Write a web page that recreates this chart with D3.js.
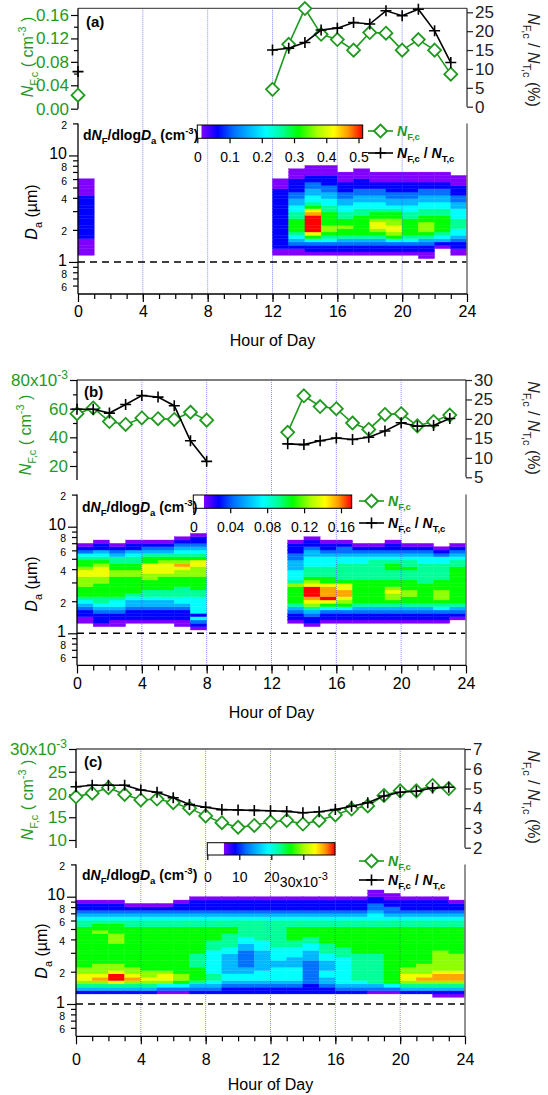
<!DOCTYPE html>
<html><head><meta charset="utf-8">
<script src="https://cdn.jsdelivr.net/npm/d3@7"></script>
<style>
html,body{margin:0;padding:0;background:#fff;}
svg{display:block;font-family:"Liberation Sans",Arial,Helvetica,sans-serif;}
</style></head><body>
<svg id="chart" width="548" height="1095"></svg>
<script>
// ================= DATA =================
const hoursOfDay = [0,1,2,3,4,5,6,7,8,9,10,11,12,13,14,15,16,17,18,19,20,21,22,23];
const xTickValues = [0,4,8,12,16,20,24];
const gridHours = [4,8,12,16,20];

// Panel (a)
const nfcA   = [0.023,null,null,null,null,null,null,null,null,null,null,null,0.033,0.110,0.171,0.127,0.118,0.100,0.130,0.129,0.100,0.118,0.100,0.059];
const ratioA = [9.3,null,null,null,null,null,null,null,null,null,null,null,15.0,15.5,17.0,20.3,20.8,22.3,21.9,25.4,24.1,25.8,20.1,11.7];
const leftTicksA = [0,0.04,0.08,0.12,0.16];
const leftMinorA = [0.02,0.06,0.10,0.14];
const rightTicksA = [0,5,10,15,20,25];
const cbTicksA = [0,0.1,0.2,0.3,0.4,0.5];
const cbLabelsA = ["0","0.1","0.2","0.3","0.4","0.5"];
// size distribution: [first size bin (1/32 decade index), colour levels 0..a per bin]
const sizeDistA = [
 [2,"00000111111111111100000"],
 null,null,null,null,null,null,null,null,null,null,null,
 [2,"00111111111111111111000"],
 [2,"00123456666554433221111000"],
 [2,"0112468aaaaa986544332211000"],
 [2,"011245677666655443322111000"],
 [2,"0112356676655443322111000"],
 [2,"01123566666655443322111000"],
 [2,"0112356788766544332211000"],
 [2,"0112467887766543322111000"],
 [2,"0112456666655443322111000"],
 [1,"00112356777665544332211000"],
 [4,"01345666665544332211000"],
 [2,"001123445554443322111000"]
];

// Panel (b)
const nfcB   = [0.0565,0.0605,0.051,0.049,0.0535,0.053,0.0525,0.0575,0.052,null,null,null,null,0.0435,0.069,0.0615,0.060,0.050,0.0455,0.056,0.0565,0.048,0.051,0.0555];
const ratioB = [22.5,22.5,21.5,23.7,26.0,25.6,23.4,14.4,9.1,null,null,null,null,13.6,13.4,14.4,15.1,14.7,15.3,16.9,19.0,18.1,18.3,20.1];
const leftTicksB = [0.02,0.04,0.06,0.08];
const leftMinorB = [0.03,0.05,0.07];
const rightTicksB = [5,10,15,20,25,30];
const cbTicksB = [0,0.04,0.08,0.12,0.16];
const cbLabelsB = ["0","0.04","0.08","0.12","0.16"];
const sizeDistB = [
 [3,"001123456667778876654210"],
 [2,"01112345566667788876543110"],
 [2,"0011234456666667766553210"],
 [3,"0111233456666677665543110"],
 [3,"0111233455666778886653210"],
 [3,"0111233455666678887653210"],
 [2,"001112344555666778976543210"],
 [1,"01241444445566667778865432110"],
 null,null,null,null,null,
 [3,"0112356666675444333221110"],
 [2,"011235789aaa876555444332110"],
 [3,"0112468a99986655544432110"],
 [3,"0112467899886555554432210"],
 [3,"011235666666655555443210"],
 [3,"011235666666655555543210"],
 [3,"0112356778766555665432110"],
 [3,"011235667766655565543210"],
 [3,"011235666666555555443210"],
 [3,"01124567776665555544210"],
 [4,"01235666666666665543210"]
];

// Panel (c)
const nfcC   = [0.0195,0.0203,0.0215,0.0200,0.0188,0.0190,0.0182,0.0170,0.0153,0.0138,0.0128,0.0132,0.0140,0.0143,0.0135,0.0143,0.0155,0.0168,0.0175,0.0198,0.0208,0.0208,0.0220,0.0213];
const ratioC = [5.09,5.16,5.16,5.16,4.92,4.81,4.53,4.19,4.05,3.93,3.91,3.89,3.87,3.84,3.77,3.82,3.93,4.10,4.28,4.62,4.81,4.86,5.02,5.06];
const leftTicksC = [0.010,0.015,0.020,0.025,0.030];
const leftMinorC = [];
const rightTicksC = [2,3,4,5,6,7];
const cbTicksC = [0,0.01,0.02,0.03];
const cbLabelsC = ["0","10","20","30x10"];
const sizeDistC = [
 [3,"1357887766666666666655432110"],
 [3,"1357987776666666667665432110"],
 [3,"1358aa8776666667776665432110"],
 [3,"135798776666666666665543210"],
 [3,"135787766666666666665543210"],
 [3,"024788766666666666665543210"],
 [3,"0246776666666666666655432110"],
 [3,"12356666555566666666554321110"],
 [3,"12345544444445556666554321110"],
 [3,"11234433333344555566554321110"],
 [3,"11234433222223344555554321110"],
 [3,"11234443333334445555554321110"],
 [3,"11234444334444555555554321110"],
 [3,"11234444333444556666554321110"],
 [3,"11122222223334455666554321110"],
 [3,"11233443334455566666554321110"],
 [3,"12344444444555666666554321110"],
 [3,"12345555555566666666554321110"],
 [3,"0235555555556666666655443221100"],
 [3,"024666666666666666665543221100"],
 [3,"13578877666666666666554321110"],
 [3,"13579877766666666666554321110"],
 [2,"013579987777776666666554321110"],
 [2,"01357998777776666666655432110"]
];

const heatMinorTicks = [0.6,0.7,0.8,0.9,2,3,4,5,6,7,8,9,20];
const heatMinorLabels = {0.6:"6",0.8:"8",2:"2",4:"4",6:"6",8:"8",20:"2"};

// colour table (Igor-like reversed rainbow)
const rainbowPos = [0,0.10,0.20,0.30,0.40,0.50,0.60,0.72,0.82,0.91,1];
const rainbowCol = ["#8000ff","#0000ff","#0070ff","#00b8ff","#00ffff","#00ff99","#00ff00","#aaff00","#ffff00","#ff9900","#ff0000"];

// ================= DRAW =================
const svg = d3.select("#chart");
const defs = svg.append("defs");
const GREEN = "#1f9a1f";
const FONT = '"Liberation Sans",Arial,sans-serif';

function rich(parent, x, y, parts, o) {
  const fs = o.fs;
  const t = parent.append("text").attr("x", x).attr("y", y)
    .attr("font-size", fs).attr("fill", o.fill || "#000")
    .attr("text-anchor", o.anchor || "start");
  if (o.bold) t.attr("font-weight", "bold");
  if (o.transform) t.attr("transform", o.transform);
  let cur = 0;
  parts.forEach(p => {
    const sp = t.append("tspan").text(p.t);
    let target = 0;
    if (p.sub) target = fs * 0.32;
    if (p.sup) target = -fs * 0.45;
    if (target - cur !== 0) sp.attr("dy", target - cur);
    cur = target;
    if (p.sub || p.sup) sp.attr("font-size", fs * 0.68);
    if (p.i) sp.attr("font-style", "italic");
  });
  return t;
}

function styleAxis(ax, fs, col) {
  ax.attr("font-family", FONT).attr("font-size", fs).attr("color", col || "#000");
  ax.select(".domain").remove();
  ax.selectAll(".tick line").attr("stroke-width", 1.2);
}

const panels = [
 {id:"a", x0:78, x1:467, frameTop:8.3,
  leftDom:[0,0.16], leftRng:[108.7,15], leftBottom:108.7, leftMajor:leftTicksA, leftMinor:leftMinorA, leftFmt:d=>d.toFixed(2), sciTop:null,
  rightDom:[0,25], rightRng:[106.7,12.3], rightBottom:106.7, rightTicks:rightTicksA,
  nfc:nfcA, ratio:ratioA, dist:sizeDistA, hTop:123.4, hBottom:294, xPad:4, hourY:346,
  cbMin:0.013, cbMax:0.513, cbX0:197.3, cbX1:362.7, cbY0:125, cbY1:138.3, cbTicks:cbTicksA, cbLabels:cbLabelsA, cbPad:9, cbSci:false,
  cbLabelX:83, cbLabelY:140, legX:368, legY1:131, legY2:153,
  tag:[86,27], leftTitle:[33,57], rightTitle:[528,60], daTitle:[37,212]},
 {id:"b", x0:77, x1:466, frameTop:380,
  leftDom:[0.02,0.08], leftRng:[466,380], leftBottom:480, leftMajor:leftTicksB, leftMinor:leftMinorB, leftFmt:d=>String(Math.round(d*1000)), sciTop:0.08,
  rightDom:[5,30], rightRng:[477.3,380], rightBottom:477.3, rightTicks:rightTicksB,
  nfc:nfcB, ratio:ratioB, dist:sizeDistB, hTop:494.6, hBottom:665.4, xPad:4, hourY:718,
  cbMin:0.0116, cbMax:0.1716, cbX0:193.3, cbX1:351.7, cbY0:495, cbY1:508.3, cbTicks:cbTicksB, cbLabels:cbLabelsB, cbPad:9, cbSci:false,
  cbLabelX:82, cbLabelY:512, legX:359, legY1:501, legY2:523,
  tag:[84,397], leftTitle:[31,435], rightTitle:[528,428], daTitle:[37,584]},
 {id:"c", x0:76, x1:465, frameTop:749,
  leftDom:[0.010,0.030], leftRng:[840,749], leftBottom:848, leftMajor:leftTicksC, leftMinor:leftMinorC, leftFmt:d=>String(Math.round(d*1000)), sciTop:0.030,
  rightDom:[2,7], rightRng:[847.7,749], rightBottom:847.7, rightTicks:rightTicksC,
  nfc:nfcC, ratio:ratioC, dist:sizeDistC, hTop:864.4, hBottom:1036.3, xPad:9, hourY:1090,
  cbMin:0.0052, cbMax:0.0399, cbX0:207.3, cbX1:335, cbY0:842.7, cbY1:855, cbTicks:cbTicksC, cbLabels:cbLabelsC, cbPad:12, cbSci:true,
  cbLabelX:82, cbLabelY:880, legX:359, legY1:861, legY2:880,
  tag:[84,767], leftTitle:[33,800], rightTitle:[528,797], daTitle:[47,951]}
];

panels.forEach(P => {
  const g = svg.append("g");
  const x = d3.scaleLinear().domain([0,24]).range([P.x0, P.x1]);
  const yL = d3.scaleLinear().domain(P.leftDom).range(P.leftRng);
  const yR = d3.scaleLinear().domain(P.rightDom).range(P.rightRng);
  const yH = d3.scaleLog().domain([0.5,20]).range([P.hBottom, P.hTop]);
  const color = d3.scaleLinear()
    .domain(rainbowPos.map(t => P.cbMin + t*(P.cbMax - P.cbMin)))
    .range(rainbowCol).clamp(true);

  // ---- heatmap cells ----
  const cells = [];
  P.dist.forEach((col, h) => {
    if (!col) return;
    const s = col[0];
    [...col[1]].forEach((ch, i) => {
      const j = s + i;
      const lvl = parseInt(ch, 16);
      cells.push({h, lo: Math.pow(10, j/32), hi: Math.pow(10, (j+1)/32),
                  v: P.cbMin + lvl/10*(P.cbMax - P.cbMin)});
    });
  });
  g.append("g").selectAll("rect").data(cells).join("rect")
    .attr("x", d => x(d.h)).attr("width", d => x(d.h+1) - x(d.h))
    .attr("y", d => yH(d.hi)).attr("height", d => yH(d.lo) - yH(d.hi))
    .attr("fill", d => color(d.v)).attr("stroke", d => color(d.v)).attr("stroke-width", 0.35);

  // ---- vertical grid lines ----
  g.append("g").selectAll("line").data(gridHours).join("line")
    .attr("x1", d => x(d)).attr("x2", d => x(d))
    .attr("y1", P.frameTop).attr("y2", P.hBottom)
    .attr("stroke", "#4040ff").attr("stroke-width", 0.8)
    .attr("stroke-dasharray", "1,1").attr("opacity", 0.75);

  // ---- dashed 1 um line ----
  g.append("line").attr("x1", P.x0).attr("x2", P.x1).attr("y1", yH(1)).attr("y2", yH(1))
    .attr("stroke", "#000").attr("stroke-width", 1.5).attr("stroke-dasharray", "7,5");

  // ---- heatmap axes ----
  g.append("line").attr("x1", P.x0).attr("x2", P.x0).attr("y1", P.hTop).attr("y2", P.hBottom)
    .attr("stroke", "#000").attr("stroke-width", 1.3);
  g.append("line").attr("x1", P.x1).attr("x2", P.x1).attr("y1", P.hTop).attr("y2", P.hBottom)
    .attr("stroke", "#777").attr("stroke-width", 1.6);
  g.append("line").attr("x1", P.x0).attr("x2", P.x1).attr("y1", P.hBottom).attr("y2", P.hBottom)
    .attr("stroke", "#000").attr("stroke-width", 1.3);

  const hMaj = g.append("g").attr("transform", `translate(${P.x0},0)`)
    .call(d3.axisLeft(yH).tickValues([1,10]).tickSize(9).tickPadding(2).tickFormat(d3.format("d")));
  styleAxis(hMaj, 16);
  hMaj.selectAll("text").attr("dy", "0.2em");
  const hMin = g.append("g").attr("transform", `translate(${P.x0},0)`)
    .call(d3.axisLeft(yH).tickValues(heatMinorTicks).tickSize(5).tickPadding(6)
      .tickFormat(d => heatMinorLabels[d] || ""));
  styleAxis(hMin, 10.5);
  hMin.selectAll("text").attr("dy", "0.47em");

  const xMaj = g.append("g").attr("transform", `translate(0,${P.hBottom})`)
    .call(d3.axisBottom(x).tickValues(xTickValues).tickSize(8).tickPadding(P.xPad).tickFormat(d3.format("d")));
  styleAxis(xMaj, 16);
  const xMin = g.append("g").attr("transform", `translate(0,${P.hBottom})`)
    .call(d3.axisBottom(x).tickValues(hoursOfDay.slice(1)).tickSize(5).tickFormat(""));
  styleAxis(xMin, 10);

  g.append("text").attr("x", (P.x0 + P.x1)/2).attr("y", P.hourY).attr("text-anchor", "middle")
    .attr("font-size", 16).text("Hour of Day");

  rich(g, 0, 0, [{t:"D", i:1},{t:"a", sub:1},{t:" (µm)"}],
    {fs:16, anchor:"middle", transform:`translate(${P.daTitle[0]},${P.daTitle[1]}) rotate(-90)`});

  // ---- top plot frame & axes ----
  g.append("line").attr("x1", P.x0).attr("x2", P.x1).attr("y1", P.frameTop).attr("y2", P.frameTop)
    .attr("stroke", "#555").attr("stroke-width", 1.3);
  g.append("line").attr("x1", P.x0).attr("x2", P.x0).attr("y1", P.frameTop).attr("y2", P.leftBottom)
    .attr("stroke", "#000").attr("stroke-width", 1.3);
  g.append("line").attr("x1", P.x1).attr("x2", P.x1).attr("y1", P.frameTop).attr("y2", P.rightBottom)
    .attr("stroke", "#333").attr("stroke-width", 1.3);

  const lAx = g.append("g").attr("transform", `translate(${P.x0},0)`)
    .call(d3.axisLeft(yL).tickValues(P.leftMajor).tickSize(7).tickPadding(2).tickFormat(P.leftFmt));
  styleAxis(lAx, 17);
  lAx.selectAll("text").attr("fill", GREEN);
  if (P.sciTop !== null) {
    lAx.selectAll(".tick").filter(d => Math.abs(d - P.sciTop) < 1e-9).select("text")
      .text(null).call(t => {
        t.append("tspan").text(P.leftFmt(P.sciTop) + "x10");
        t.append("tspan").attr("dy", -7).attr("font-size", 12).text("-3");
      });
  }
  if (P.leftMinor.length) {
    const lMin = g.append("g").attr("transform", `translate(${P.x0},0)`)
      .call(d3.axisLeft(yL).tickValues(P.leftMinor).tickSize(4).tickFormat(""));
    styleAxis(lMin, 10);
  }
  const rAx = g.append("g").attr("transform", `translate(${P.x1},0)`)
    .call(d3.axisRight(yR).tickValues(P.rightTicks).tickSize(6).tickPadding(2).tickFormat(d3.format("d")));
  styleAxis(rAx, 17, "#222");

  rich(g, 0, 0, [{t:"N", i:1},{t:"F,c", sub:1},{t:" ( cm"},{t:"-3", sup:1},{t:" )"}],
    {fs:16, anchor:"middle", fill:GREEN, transform:`translate(${P.leftTitle[0]},${P.leftTitle[1]}) rotate(-90)`});
  rich(g, 0, 0, [{t:"N", i:1},{t:"F,c", sub:1},{t:" / "},{t:"N", i:1},{t:"T,c", sub:1},{t:" (%)"}],
    {fs:16, anchor:"middle", fill:"#222", transform:`translate(${P.rightTitle[0]},${P.rightTitle[1]}) rotate(90)`});

  g.append("text").attr("x", P.tag[0]).attr("y", P.tag[1]).attr("font-size", 15)
    .attr("font-weight", "bold").text(`(${P.id})`);

  // ---- series ----
  const diamond = "M0,-6.5L6.5,0L0,6.5L-6.5,0Z";
  const cross = "M-5.5,0H5.5M0,-5.5V5.5";
  const gPts = hoursOfDay.map((h, i) => ({h, v: P.nfc[i]}));
  const kPts = hoursOfDay.map((h, i) => ({h, v: P.ratio[i]}));
  const lineG = d3.line().defined(d => d.v !== null).x(d => x(d.h)).y(d => yL(d.v));
  const lineK = d3.line().defined(d => d.v !== null).x(d => x(d.h)).y(d => yR(d.v));
  g.append("path").attr("d", lineG(gPts)).attr("fill", "none").attr("stroke", GREEN).attr("stroke-width", 1.6);
  g.append("g").selectAll("path").data(gPts.filter(d => d.v !== null)).join("path")
    .attr("d", diamond).attr("transform", d => `translate(${x(d.h)},${yL(d.v)})`)
    .attr("fill", "#fff").attr("stroke", GREEN).attr("stroke-width", 1.8);
  g.append("path").attr("d", lineK(kPts)).attr("fill", "none").attr("stroke", "#000").attr("stroke-width", 1.6);
  g.append("g").selectAll("path").data(kPts.filter(d => d.v !== null)).join("path")
    .attr("d", cross).attr("transform", d => `translate(${x(d.h)},${yR(d.v)})`)
    .attr("fill", "none").attr("stroke", "#000").attr("stroke-width", 1.6);

  // ---- colour bar ----
  const gradId = "grad-" + P.id;
  const grad = defs.append("linearGradient").attr("id", gradId).attr("x1", "0%").attr("x2", "100%");
  rainbowPos.forEach((t, i) => grad.append("stop").attr("offset", (t*100) + "%").attr("stop-color", rainbowCol[i]));
  const cbx = d3.scaleLinear().domain([0, P.cbMax]).range([P.cbX0, P.cbX1]);
  g.append("rect").attr("x", P.cbX0).attr("y", P.cbY0).attr("width", P.cbX1 - P.cbX0).attr("height", P.cbY1 - P.cbY0)
    .attr("fill", "#fff");
  g.append("rect").attr("x", cbx(P.cbMin)).attr("y", P.cbY0).attr("width", P.cbX1 - cbx(P.cbMin))
    .attr("height", P.cbY1 - P.cbY0).attr("fill", `url(#${gradId})`);
  g.append("rect").attr("x", P.cbX0).attr("y", P.cbY0).attr("width", P.cbX1 - P.cbX0).attr("height", P.cbY1 - P.cbY0)
    .attr("fill", "none").attr("stroke", "#000").attr("stroke-width", 1);
  const cbAx = g.append("g").attr("transform", `translate(0,${P.cbY1})`)
    .call(d3.axisBottom(cbx).tickValues(P.cbTicks).tickSize(5).tickPadding(P.cbPad)
      .tickFormat((d, i) => P.cbLabels[i]));
  styleAxis(cbAx, 14);
  if (P.cbSci) {
    cbAx.selectAll(".tick").filter((d, i) => i === P.cbTicks.length - 1).select("text")
      .attr("dy", "1.05em").call(t => t.append("tspan").attr("dy", -7).attr("font-size", 11).text("-3"));
  }
  rich(g, P.cbLabelX, P.cbLabelY,
    [{t:"d"},{t:"N", i:1},{t:"F", sub:1},{t:"/dlog"},{t:"D", i:1},{t:"a", sub:1},{t:" (cm"},{t:"-3", sup:1},{t:")"}],
    {fs:14, bold:true});

  // ---- legend ----
  const lg = g.append("g");
  lg.append("line").attr("x1", P.legX).attr("x2", P.legX + 25).attr("y1", P.legY1).attr("y2", P.legY1)
    .attr("stroke", GREEN).attr("stroke-width", 1.6);
  lg.append("path").attr("d", diamond).attr("transform", `translate(${P.legX + 12.5},${P.legY1})`)
    .attr("fill", "#fff").attr("stroke", GREEN).attr("stroke-width", 1.8);
  rich(lg, P.legX + 29, P.legY1 + 5, [{t:"N", i:1},{t:"F,c", sub:1}], {fs:14, bold:true, fill:GREEN});
  lg.append("line").attr("x1", P.legX).attr("x2", P.legX + 25).attr("y1", P.legY2).attr("y2", P.legY2)
    .attr("stroke", "#000").attr("stroke-width", 1.6);
  lg.append("path").attr("d", cross).attr("transform", `translate(${P.legX + 12.5},${P.legY2})`)
    .attr("fill", "none").attr("stroke", "#000").attr("stroke-width", 1.6);
  rich(lg, P.legX + 29, P.legY2 + 5,
    [{t:"N", i:1},{t:"F,c", sub:1},{t:" / "},{t:"N", i:1},{t:"T,c", sub:1}], {fs:14, bold:true, fill:"#000"});
});
</script>
</body></html>
